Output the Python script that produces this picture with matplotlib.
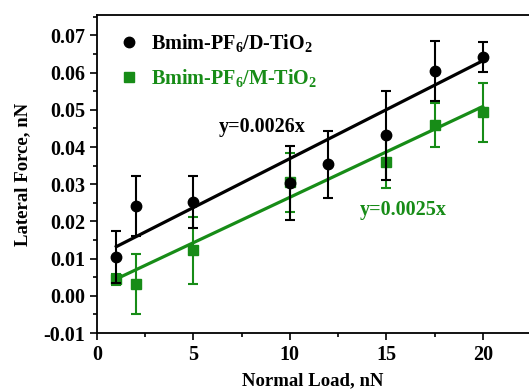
import numpy as np
import matplotlib.pyplot as plt
from matplotlib.lines import Line2D

# data
load_d = [1, 2, 5, 10, 12, 15, 17.5, 20]
force_d = [0.0104, 0.0242, 0.0253, 0.0303, 0.0354, 0.0432, 0.0604, 0.0643]
err_d = [0.007, 0.008, 0.007, 0.010, 0.009, 0.012, 0.008, 0.004]

load_m = [1, 2, 5, 10, 15, 17.5, 20]
force_m = [0.0045, 0.0032, 0.0123, 0.0305, 0.0359, 0.0459, 0.0493]
err_m = [0.0015, 0.008, 0.009, 0.008, 0.007, 0.006, 0.008]

# linear fits (slope, intercept) as drawn
fit_d = [0.00263, 0.0106]
fit_m = [0.00244, 0.0021]
fit_range = [1, 20]

green = "#178c17"

plt.rcParams['font.family'] = 'Liberation Serif'
plt.rcParams['font.weight'] = 'bold'
plt.rcParams['axes.labelweight'] = 'bold'
plt.rcParams['mathtext.fontset'] = 'custom'
plt.rcParams['mathtext.rm'] = 'Liberation Serif:bold'
plt.rcParams['mathtext.it'] = 'Liberation Serif:bold'
plt.rcParams['mathtext.bf'] = 'Liberation Serif:bold'

fig = plt.figure(figsize=(5.29, 3.9), dpi=100)
ax = fig.add_axes([0.1834, 0.146, 0.8166, 0.8155])

xs = np.array(fit_range)
ax.plot(xs, np.polyval(fit_d, xs), c="black", lw=2.3, zorder=2)
ax.plot(xs, np.polyval(fit_m, xs), c=green, lw=2.3, zorder=2)

ax.errorbar(load_m, force_m, yerr=err_m, fmt="s", color=green, ms=6.5,
            elinewidth=1.5, capsize=3.5, capthick=1.5, zorder=3)
ax.errorbar(load_d, force_d, yerr=err_d, fmt="o", color="black", ms=7.5,
            elinewidth=1.5, capsize=3.5, capthick=1.5, zorder=4)

ax.annotate("y=0.0026x", xy=(6.3, 0.0455), fontsize=14.5, color="black",
            ha="left", va="center")
ax.annotate("y=0.0025x", xy=(13.6, 0.0230), fontsize=14.5, color=green,
            ha="left", va="center")

handles = [Line2D([], [], ls="none", marker="o", color="black", ms=7.5),
           Line2D([], [], ls="none", marker="s", color=green, ms=6.5)]
labels = ["Bmim-PF$_6$/D-TiO$_2$", "Bmim-PF$_6$/M-TiO$_2$"]
leg = ax.legend(handles, labels, loc="upper left",
                bbox_to_anchor=(0.005, 1.005), frameon=False, fontsize=14.5,
                handletextpad=0.45, handlelength=1.2, labelspacing=0.65)
for t, c in zip(leg.get_texts(), ["black", green]):
    t.set_color(c)

ax.set_xlim(0, 22.4)
ax.set_ylim(-0.01, 0.0755)
ax.set_xticks([0, 5, 10, 15, 20])
ax.set_xticks([2.5, 7.5, 12.5, 17.5], minor=True)
ax.set_yticks(np.arange(-0.01, 0.071, 0.01))
ax.set_yticks(np.arange(-0.005, 0.0751, 0.01), minor=True)
ax.set_yticklabels(["-0.01", "0.00", "0.01", "0.02", "0.03", "0.04",
                    "0.05", "0.06", "0.07"])
ax.tick_params(which="major", direction="out", length=5, width=1.2, labelsize=14.5)
ax.tick_params(which="minor", direction="out", length=3, width=1.2)
ax.spines["right"].set_visible(False)
for s in ["left", "bottom", "top"]:
    ax.spines[s].set_linewidth(1.3)

ax.set_xlabel("Normal Load, nN", fontsize=13.5, labelpad=5)
ax.set_ylabel("Lateral Force, nN", fontsize=13.5, labelpad=9)

fig.savefig("out.png", dpi=100)
